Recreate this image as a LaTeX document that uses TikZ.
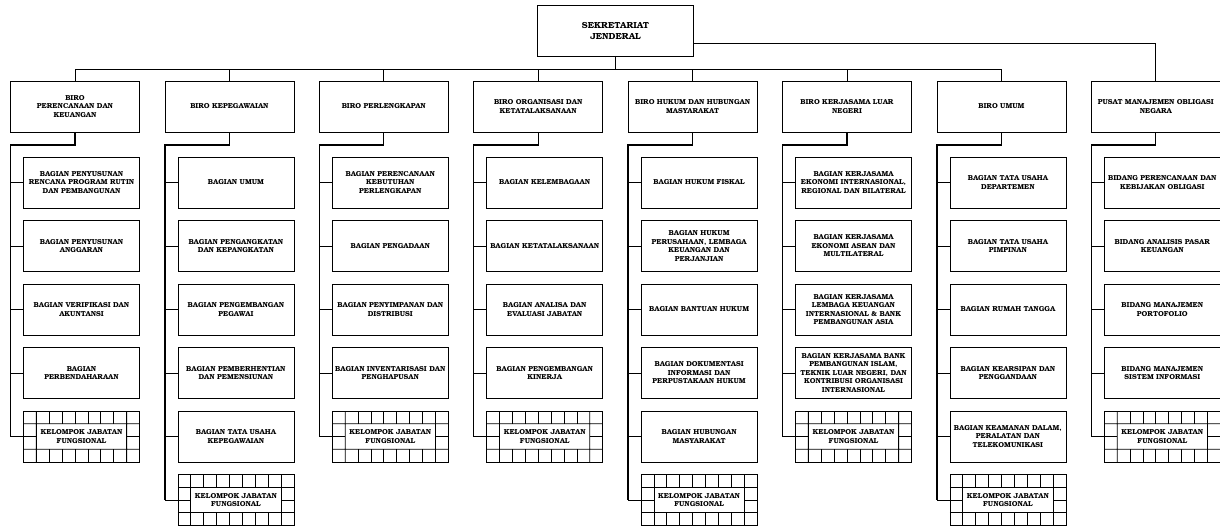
\documentclass[tikz,border=0pt]{standalone}
\usepackage[T1]{fontenc}
\usepackage{bookman}
\usetikzlibrary{positioning, calc}
\tikzset{
    txt/.style={font=\fontsize{7.2}{8.5}\selectfont\bfseries, align=center, inner sep=1pt, outer sep=0pt},
    topbox/.style={draw, line width=.8pt, minimum width=155pt, minimum height=51pt, text width=150pt, align=center, outer sep=0pt, font=\fontsize{8.8}{11}\selectfont\bfseries},
    headbox/.style={txt, draw, line width=.8pt, minimum width=129pt, minimum height=51pt, text width=126pt},
    subbox/.style={txt, draw, line width=.8pt, minimum width=116pt, minimum height=51pt, text width=114pt},
    kjfbox/.style={txt, draw, line width=.8pt, minimum width=116pt, minimum height=51pt, text width=88pt},
    gridline/.style={line width=.8pt},
    bus/.style={line width=.8pt},
    trunk/.style={line width=1.3pt},
    stub/.style={line width=.7pt}
}
% brick pattern of the "kelompok jabatan fungsional" boxes
\newcommand\kjfgrid[1]{%
  \foreach \i in {2,...,7}{
    \draw[gridline] ($(#1.north west)!\i/9!(#1.north east)$) -- ++(0pt,-12.75pt)
      ($(#1.south west)!\i/9!(#1.south east)$) -- ++(0pt,12.75pt);}
  \draw[gridline] ($(#1.north west)!1/9!(#1.north east)$) -- ($(#1.south west)!1/9!(#1.south east)$)
    ($(#1.north west)!8/9!(#1.north east)$) -- ($(#1.south west)!8/9!(#1.south east)$)
    ($(#1.north west)!.25!(#1.south west)$) -- ($(#1.north east)!.25!(#1.south east)$)
    ($(#1.north west)!.75!(#1.south west)$) -- ($(#1.north east)!.75!(#1.south east)$)
    (#1.west) -- ($(#1.west)!1/9!(#1.east)$)
    ($(#1.west)!8/9!(#1.east)$) -- (#1.east);}

\begin{document}
\begin{tikzpicture}[x=1pt, y=1pt, node distance=12.5pt]
  \useasboundingbox (0,0) rectangle (1220,-527);
  \node(sekjen)[topbox] at (615.5,-30.5){SEKRETARIAT\\JENDERAL};
  % biro
  \node(keu)[headbox] at (75,-106.5){BIRO\\PERENCANAAN DAN\\KEUANGAN};
  \node(peg)[headbox] at (229.4,-106.5){BIRO KEPEGAWAIAN};
  \node(lkp)[headbox] at (383.8,-106.5){BIRO PERLENGKAPAN};
  \node(org)[headbox] at (538.2,-106.5){BIRO ORGANISASI DAN\\KETATALAKSANAAN};
  \node(hkm)[headbox] at (692.6,-106.5){BIRO HUKUM DAN HUBUNGAN\\MASYARAKAT};
  \node(kln)[headbox] at (847,-106.5){BIRO KERJASAMA LUAR\\NEGERI};
  \node(umm)[headbox] at (1001.4,-106.5){BIRO UMUM};
  \node(pmo)[headbox] at (1155.8,-106.5){PUSAT MANAJEMEN OBLIGASI\\NEGARA};
  % perencanaan dan keuangan
  \node(keu1)[subbox, below=25pt of keu, xshift=6.5pt]{BAGIAN PENYUSUNAN\\RENCANA PROGRAM RUTIN\\DAN PEMBANGUNAN};
  \node(keu2)[subbox, below=of keu1]{BAGIAN PENYUSUNAN\\ANGGARAN};
  \node(keu3)[subbox, below=of keu2]{BAGIAN VERIFIKASI DAN\\AKUNTANSI};
  \node(keu4)[subbox, below=of keu3]{BAGIAN\\PERBENDAHARAAN};
  \node(keu5)[kjfbox, below=of keu4]{KELOMPOK JABATAN\\FUNGSIONAL};
  % kepegawaian
  \node(peg1)[subbox, below=25pt of peg, xshift=6.5pt]{BAGIAN UMUM};
  \node(peg2)[subbox, below=of peg1]{BAGIAN PENGANGKATAN\\DAN KEPANGKATAN};
  \node(peg3)[subbox, below=of peg2]{BAGIAN PENGEMBANGAN\\PEGAWAI};
  \node(peg4)[subbox, below=of peg3]{BAGIAN PEMBERHENTIAN\\DAN PEMENSIUNAN};
  \node(peg5)[subbox, below=of peg4]{BAGIAN TATA USAHA\\KEPEGAWAIAN};
  \node(peg6)[kjfbox, below=of peg5]{KELOMPOK JABATAN\\FUNGSIONAL};
  % perlengkapan
  \node(lkp1)[subbox, below=25pt of lkp, xshift=6.5pt]{BAGIAN PERENCANAAN\\KEBUTUHAN\\PERLENGKAPAN};
  \node(lkp2)[subbox, below=of lkp1]{BAGIAN PENGADAAN};
  \node(lkp3)[subbox, below=of lkp2]{BAGIAN PENYIMPANAN DAN\\DISTRIBUSI};
  \node(lkp4)[subbox, below=of lkp3]{BAGIAN INVENTARISASI DAN\\PENGHAPUSAN};
  \node(lkp5)[kjfbox, below=of lkp4]{KELOMPOK JABATAN\\FUNGSIONAL};
  % organisasi dan ketatalaksanaan
  \node(org1)[subbox, below=25pt of org, xshift=6.5pt]{BAGIAN KELEMBAGAAN};
  \node(org2)[subbox, below=of org1]{BAGIAN KETATALAKSANAAN};
  \node(org3)[subbox, below=of org2]{BAGIAN ANALISA DAN\\EVALUASI JABATAN};
  \node(org4)[subbox, below=of org3]{BAGIAN PENGEMBANGAN\\KINERJA};
  \node(org5)[kjfbox, below=of org4]{KELOMPOK JABATAN\\FUNGSIONAL};
  % hukum dan hubungan masyarakat
  \node(hkm1)[subbox, below=25pt of hkm, xshift=6.5pt]{BAGIAN HUKUM FISKAL};
  \node(hkm2)[subbox, below=of hkm1]{BAGIAN HUKUM\\PERUSAHAAN, LEMBAGA\\KEUANGAN DAN\\PERJANJIAN};
  \node(hkm3)[subbox, below=of hkm2]{BAGIAN BANTUAN HUKUM};
  \node(hkm4)[subbox, below=of hkm3]{BAGIAN DOKUMENTASI\\INFORMASI DAN\\PERPUSTAKAAN HUKUM};
  \node(hkm5)[subbox, below=of hkm4]{BAGIAN HUBUNGAN\\MASYARAKAT};
  \node(hkm6)[kjfbox, below=of hkm5]{KELOMPOK JABATAN\\FUNGSIONAL};
  % kerjasama luar negeri
  \node(kln1)[subbox, below=25pt of kln, xshift=6.5pt]{BAGIAN KERJASAMA\\EKONOMI INTERNASIONAL,\\REGIONAL DAN BILATERAL};
  \node(kln2)[subbox, below=of kln1]{BAGIAN KERJASAMA\\EKONOMI ASEAN DAN\\MULTILATERAL};
  \node(kln3)[subbox, below=of kln2]{BAGIAN KERJASAMA\\LEMBAGA KEUANGAN\\INTERNASIONAL \& BANK\\PEMBANGUNAN ASIA};
  \node(kln4)[subbox, below=of kln3]{BAGIAN KERJASAMA BANK\\PEMBANGUNAN ISLAM,\\TEKNIK LUAR NEGERI, DAN\\KONTRIBUSI ORGANISASI\\INTERNASIONAL};
  \node(kln5)[kjfbox, below=of kln4]{KELOMPOK JABATAN\\FUNGSIONAL};
  % umum
  \node(umm1)[subbox, below=25pt of umm, xshift=6.5pt]{BAGIAN TATA USAHA\\DEPARTEMEN};
  \node(umm2)[subbox, below=of umm1]{BAGIAN TATA USAHA\\PIMPINAN};
  \node(umm3)[subbox, below=of umm2]{BAGIAN RUMAH TANGGA};
  \node(umm4)[subbox, below=of umm3]{BAGIAN KEARSIPAN DAN\\PENGGANDAAN};
  \node(umm5)[subbox, below=of umm4]{BAGIAN KEAMANAN DALAM,\\PERALATAN DAN\\TELEKOMUNIKASI};
  \node(umm6)[kjfbox, below=of umm5]{KELOMPOK JABATAN\\FUNGSIONAL};
  % pusat manajemen obligasi negara
  \node(pmo1)[subbox, below=25pt of pmo, xshift=6.5pt]{BIDANG PERENCANAAN DAN\\KEBIJAKAN OBLIGASI};
  \node(pmo2)[subbox, below=of pmo1]{BIDANG ANALISIS PASAR\\KEUANGAN};
  \node(pmo3)[subbox, below=of pmo2]{BIDANG MANAJEMEN\\PORTOFOLIO};
  \node(pmo4)[subbox, below=of pmo3]{BIDANG MANAJEMEN\\SISTEM INFORMASI};
  \node(pmo5)[kjfbox, below=of pmo4]{KELOMPOK JABATAN\\FUNGSIONAL};
  \foreach \k in {keu5, peg6, lkp5, org5, hkm6, kln5, umm6, pmo5} {\kjfgrid{\k}}
  % connectors
  \draw[trunk](sekjen.south)--++(0pt,-13pt)coordinate(busmid);
  \draw[bus](busmid-|keu.north)--(busmid-|umm.north);
  \foreach \bn in {keu, peg, lkp, org, hkm, kln, umm}
    \draw[bus](busmid-|\bn.north)--(\bn.north);
  \draw[bus]($(sekjen.south east)!.25!(sekjen.north east)$)-|(pmo.north);
  \foreach \bn/\last in {keu/5, peg/6, lkp/5, org/5, hkm/6, kln/5, umm/6, pmo/5}{
    \draw[trunk](\bn.south)--++(0pt,-13pt)-|(\bn.south west|-\bn\last.west);
    \foreach \i in {1,...,\last}
      \draw[stub](\bn.south west|-\bn\i.west)--(\bn\i.west);
  }
\end{tikzpicture}
\end{document}
